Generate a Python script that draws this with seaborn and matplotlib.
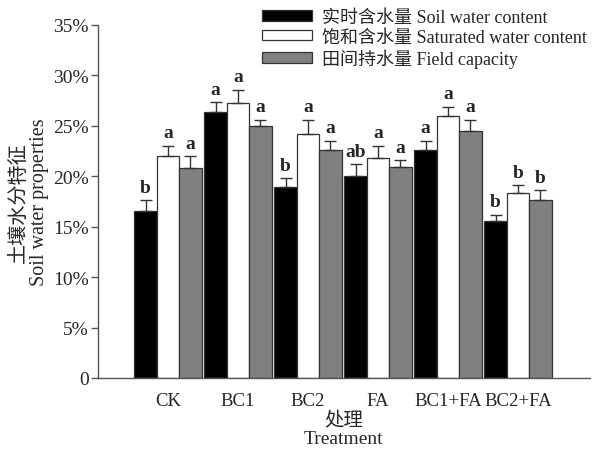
import pandas as pd
import matplotlib
matplotlib.use("Agg")
import matplotlib.pyplot as plt
import seaborn as sns
from matplotlib.patches import Patch
from matplotlib.ticker import FuncFormatter

# treatments and series
treatments = ["CK", "BC1", "BC2", "FA", "BC1+FA", "BC2+FA"]
series = ["实时含水量 Soil water content",
          "饱和含水量 Saturated water content",
          "田间持水量 Field capacity"]

# mean values (%)
swc = [16.6, 26.4, 18.9, 20.0, 22.6, 15.6]
sat = [22.0, 27.3, 24.2, 21.8, 26.0, 18.3]
fc = [20.8, 25.0, 22.6, 20.9, 24.5, 17.6]

# standard errors (%)
swc_err = [1.0, 0.95, 0.9, 1.2, 0.9, 0.6]
sat_err = [1.0, 1.3, 1.4, 1.2, 0.9, 0.8]
fc_err = [1.2, 0.6, 0.9, 0.7, 1.1, 1.0]

# significance letters
swc_sig = ["b", "a", "b", "ab", "a", "b"]
sat_sig = ["a", "a", "a", "a", "a", "b"]
fc_sig = ["a", "a", "a", "a", "a", "b"]

colors = ["#000000", "#ffffff", "#808080"]

df = pd.DataFrame({
    "Treatment": treatments * 3,
    "Series": [series[0]] * 6 + [series[1]] * 6 + [series[2]] * 6,
    "Value": swc + sat + fc,
})

sns.set_style("ticks")
plt.rcParams['font.family'] = ['Liberation Serif', 'Noto Sans CJK SC']
plt.rcParams['axes.unicode_minus'] = False

fig = plt.figure(figsize=(5.95, 4.52), dpi=100)
ax = fig.add_axes([98 / 595, 73 / 452, 492 / 595, 353 / 452])

sns.barplot(data=df, x="Treatment", y="Value", hue="Series", order=treatments,
            hue_order=series, palette=colors, width=0.96, gap=0,
            edgecolor="#333333", linewidth=0.9, errorbar=None, legend=False, ax=ax)

errs = [swc_err, sat_err, fc_err]
sigs = [swc_sig, sat_sig, fc_sig]
vals = [swc, sat, fc]
for cont, e, s, v in zip(ax.containers, errs, sigs, vals):
    xs = [b.get_x() + b.get_width() / 2 for b in cont]
    ax.errorbar(xs, v, yerr=[[0] * len(v), e], fmt="none", ecolor="#333333",
                elinewidth=1.0, capsize=4.5, capthick=1.0)
    for x, y, err, lab in zip(xs, v, e, s):
        ax.text(x, y + err + 0.45, lab, ha="center", va="bottom",
                fontsize=14, fontweight="bold")

ax.set_xlim(-1, 6.03)
ax.set_ylim(0, 35)
ax.set_yticks(range(0, 36, 5))
ax.yaxis.set_major_formatter(FuncFormatter(lambda y, p: "0" if y == 0 else f"{y:.0f}%"))
ax.tick_params(axis="y", labelsize=14, length=5, width=1, color="#555555", pad=1.5)
ax.tick_params(axis="x", labelsize=13.5, length=0, pad=10)
for side in ["top", "right"]:
    ax.spines[side].set_visible(False)
for side in ["left", "bottom"]:
    ax.spines[side].set_color("#555555")
    ax.spines[side].set_linewidth(1.0)

ax.set_xlabel("处理\nTreatment", fontsize=14, labelpad=1, linespacing=1.15)
ax.set_ylabel("土壤水分特征\nSoil water properties", fontsize=14.5, labelpad=3, linespacing=1.1)

handles = [Patch(facecolor=c, edgecolor="#333333", linewidth=0.9) for c in colors]
fig.legend(handles, series, loc="upper left", bbox_to_anchor=(252 / 595, 1.0),
           frameon=False, fontsize=13, handlelength=2.8, handleheight=0.5,
           labelspacing=0.15, handletextpad=0.5, borderaxespad=0.15)

fig.savefig("out.png", dpi=100)
